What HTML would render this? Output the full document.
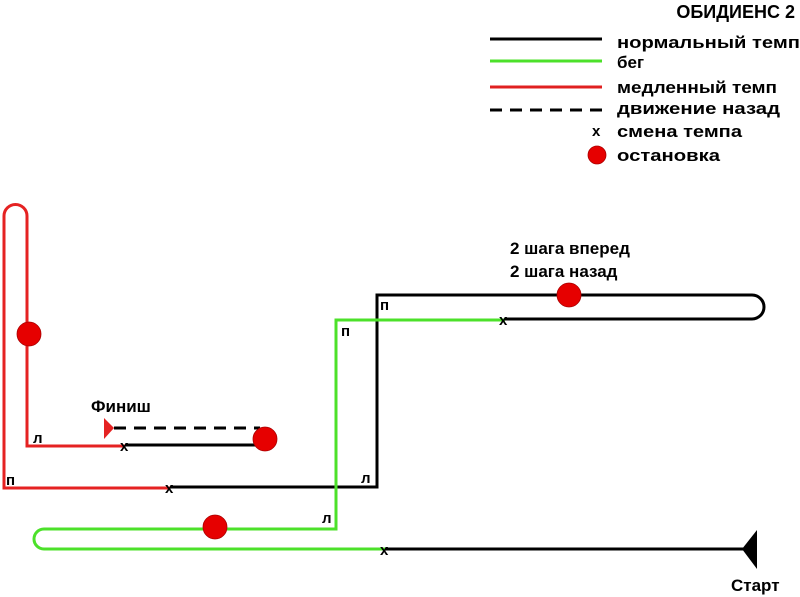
<!DOCTYPE html>
<html><head><meta charset="utf-8"><style>body{margin:0;background:#fff}svg{display:block}text{font-family:"Liberation Sans",sans-serif;font-weight:bold}</style></head>
<body>
<svg width="800" height="597" viewBox="0 0 800 597" xmlns="http://www.w3.org/2000/svg">
<g fill="none" stroke-width="3">
<line x1="490" y1="39" x2="602" y2="39" stroke="#000"/>
<line x1="490" y1="61" x2="602" y2="61" stroke="#4ce12a"/>
<line x1="490" y1="87" x2="602" y2="87" stroke="#e02020"/>
<line x1="490" y1="110" x2="602" y2="110" stroke="#000" stroke-dasharray="12,8"/>
<path d="M170,488 H4 V216 A11.5,11.5 0 0 1 27,216 V446 H125" stroke="#e52222"/>
<line x1="125" y1="445" x2="260" y2="445" stroke="#000"/>
<line x1="114" y1="428" x2="260" y2="428" stroke="#000" stroke-dasharray="12,8"/>
<path d="M170,487 H377 V295 H752 A12,12 0 0 1 752,319 H505" stroke="#000"/>
<path d="M505,320 H336 V529 H44 A10,10 0 0 0 44,549 H385" stroke="#4ce12a"/>
<line x1="385" y1="549" x2="745" y2="549" stroke="#000"/>
</g>
<g fill="#e60000" stroke="#a00" stroke-width="0.8">
<circle cx="29" cy="334" r="12"/>
<circle cx="265" cy="439" r="12"/>
<circle cx="569" cy="295" r="12"/>
<circle cx="215" cy="527" r="12"/>
<circle cx="597" cy="155" r="9"/>
</g>
<polygon points="104,418 104,439 114,428" fill="#e52222"/>
<polygon points="742,549 757,530 757,569" fill="#000"/>
<g font-size="15" fill="#000">
<text x="120" y="451">x</text><text x="165" y="493">x</text>
<text x="499" y="325">x</text><text x="380" y="555">x</text>
<text x="592" y="136">x</text>
<text x="6" y="485">п</text><text x="33" y="443">л</text>
<text x="380" y="310">п</text><text x="341" y="336">п</text>
<text x="361" y="483">л</text><text x="322" y="523">л</text>
</g>
<g font-size="17" fill="#000">
<text x="795" y="18" text-anchor="end" font-size="18">ОБИДИЕНС 2</text>
<text x="617" y="48" textLength="183" lengthAdjust="spacingAndGlyphs">нормальный темп</text>
<text x="617" y="68">бег</text>
<text x="617" y="93" textLength="160" lengthAdjust="spacingAndGlyphs">медленный темп</text>
<text x="617" y="114" textLength="163" lengthAdjust="spacingAndGlyphs">движение назад</text>
<text x="617" y="137" textLength="125" lengthAdjust="spacingAndGlyphs">смена темпа</text>
<text x="617" y="161" textLength="103" lengthAdjust="spacingAndGlyphs">остановка</text>
<text x="510" y="254">2 шага вперед</text>
<text x="510" y="277">2 шага назад</text>
<text x="91" y="412">Финиш</text>
<text x="731" y="591">Старт</text>
</g>
</svg>
</body></html>
